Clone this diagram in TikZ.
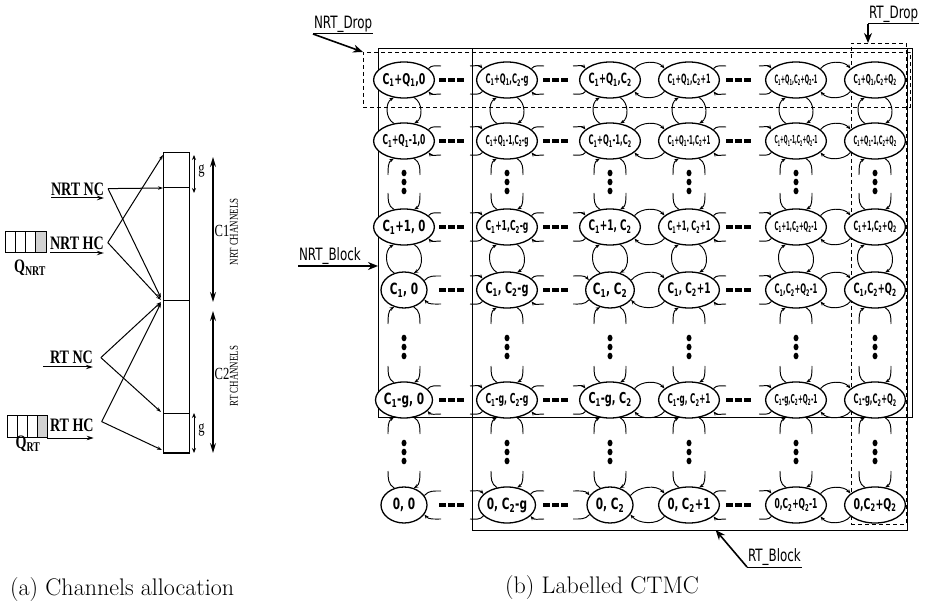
\documentclass[tikz,border=0pt]{standalone}
\usepackage{fontspec}
\usepackage{graphicx}
\usetikzlibrary{arrows.meta,calc,shapes.geometric}
\newfontfamily\lblfont[FakeStretch=0.68]{DejaVu Sans}
\newfontfamily\tagfont[FakeStretch=0.7]{DejaVu Sans}
\newfontfamily\serifc[FakeStretch=0.74]{Liberation Serif}
\newcommand\subA{\textsubscript{1}}
\newcommand\subB{\textsubscript{2}}
\newsavebox\fitbox
\newdimen\fitdim
\newcommand\fitw[1]{\sbox\fitbox{#1}\fitdim=\wd\fitbox\relax
  \ifdim\fitdim>43pt
    \pgfmathsetmacro\fitf{43/\fitdim}%
    \pgfmathsetmacro\fith{\fitf^0.4}%
    \scalebox{\fitf}[\fith]{\usebox\fitbox}%
  \else\usebox\fitbox\fi}
\newcommand\stt[4]{\node[state] (#1) at (#2,-#3) {\fitw{#4}};}
\newcommand\hdashes[2]{\foreach \k in {0,1,2}{\fill ({#1-12+\k*9},{-#2-1.9}) rectangle ++(6.5,3.8);}}
\newcommand\vdotz[2]{\foreach \k in {0,1,2}{\fill (#1,{-(#2-9+\k*9)}) ellipse [x radius=2.5pt, y radius=3.3pt];}}
\tikzset{
  state/.style={ellipse, draw, line width=1.3pt, minimum width=46pt, minimum height=36pt,
    inner sep=0pt, fill=white, font=\lblfont\bfseries\fontsize{15.5}{16}\selectfont},
  tr/.style={line width=0.95pt, -{Stealth[length=4.5pt,width=3.5pt]}},
  trs/.style={line width=0.95pt},
  blk/.style={draw, line width=1pt, inner sep=0pt, outer sep=0pt, anchor=north west},
  dropbox/.style={draw, line width=0.8pt, dash pattern=on 4pt off 3pt, inner sep=0pt, outer sep=0pt, anchor=north west},
  tag/.style={font=\tagfont\fontsize{17}{18}\selectfont, inner sep=1pt, outer sep=0pt, anchor=south west},
  bigarrow/.style={line width=1.6pt, -{Stealth[length=10pt,width=8pt]}},
  lab/.style={font=\serifc\bfseries\fontsize{19}{20}\selectfont, inner sep=0pt, outer sep=0pt},
  txt/.style={font=\serifc\fontsize{17}{18}\selectfont, inner sep=0pt},
  rtxt/.style={font=\serifc\fontsize{12}{13}\selectfont, inner sep=0pt, rotate=90},
  feed/.style={line width=1pt, -{Stealth[length=5pt,width=3.5pt]}},
  under/.style={line width=1pt, -{Stealth[length=7pt,width=4.5pt]}},
  dimbig/.style={line width=1.3pt, {Stealth[length=10pt,width=6pt]}-{Stealth[length=10pt,width=6pt]}},
  dimsmall/.style={line width=1pt, {Stealth[length=5pt,width=4pt]}-{Stealth[length=5pt,width=4pt]}},
  captext/.style={font=\fontsize{24}{28}\selectfont, inner sep=0pt, anchor=west}
}
\begin{document}
\begin{tikzpicture}[x=1pt,y=1pt]
\useasboundingbox (0,0) rectangle (926,-609);

% ================= (a) Channels allocation =================
\node[draw, line width=1pt, minimum width=26pt, minimum height=300pt, inner sep=0pt, outer sep=0pt, anchor=north west] (bar) at (163,-153) {};
\draw[line width=1pt] ($(bar.north west)+(0,-35)$) -- ($(bar.north east)+(0,-35)$);
\draw[line width=1pt] ($(bar.north west)+(0,-148)$) -- ($(bar.north east)+(0,-148)$);
\draw[line width=1pt] ($(bar.north west)+(0,-260)$) -- ($(bar.north east)+(0,-260)$);
\draw[line width=1.8pt] (bar.south west) -- (bar.south east);

\node[lab, anchor=south west] (nrtnc) at (51,-196) {NRT NC};
\node[lab, anchor=south west] (nrthc) at (50,-250) {NRT HC};
\node[lab, anchor=south west] (rtnc) at (50,-364) {RT NC};
\node[lab, anchor=south west] (rthc) at (50,-432) {RT HC};
\draw[under] ([yshift=-2pt]nrtnc.south west) -- ([yshift=-2pt]nrtnc.south east);
\draw[under] ([yshift=-3pt]nrthc.south west) -- ([yshift=-3pt]nrthc.south east);
\draw[under] ([yshift=-3pt,xshift=-7pt]rtnc.south west) -- ([yshift=-3pt]rtnc.south east);
\draw[under] ([yshift=-6pt,xshift=-3pt]rthc.south west) -- ([yshift=-6pt]rthc.south east);

\coordinate (snrtnc) at ([xshift=4pt,yshift=1pt]nrtnc.east);
\coordinate (snrthc) at ([xshift=4pt,yshift=1pt]nrthc.east);
\coordinate (srtnc) at ([xshift=8pt]rtnc.east);
\coordinate (srthc) at ([xshift=8pt,yshift=4pt]rthc.east);
\coordinate (ttop) at ($(bar.north west)+(0,-2)$);
\coordinate (tg1) at ($(bar.north west)+(0,-35)$);
\coordinate (tmid) at ($(bar.north west)+(-2,-147)$);
\coordinate (tg2) at ($(bar.north west)+(-2,-259)$);
\coordinate (tbot) at ($(bar.south west)+(-1,3)$);
\draw[feed] (snrtnc) -- (tg1);
\draw[feed] (snrtnc) -- ([yshift=2pt]tmid);
\draw[feed] (snrthc) -- (ttop);
\draw[feed] (snrthc) -- (tmid);
\draw[feed] (srtnc) -- ([yshift=-2pt]tmid);
\draw[feed] (srtnc) -- (tg2);
\draw[feed] (srthc) -- ([yshift=-3pt]tmid);
\draw[feed] (srthc) -- (tbot);

% queues
\node[draw, line width=1pt, minimum width=41pt, minimum height=21pt, inner sep=0pt, outer sep=0pt, anchor=north west] (qnrt) at (5,-232) {};
\fill[gray!35] ($(qnrt.north east)+(-10,0)$) rectangle (qnrt.south east);
\foreach \k in {1,2,3}{\draw[line width=0.9pt] ($(qnrt.north west)+(\k*10.25,0)$) -- ($(qnrt.south west)+(\k*10.25,0)$);}
\draw[line width=1pt] (qnrt.north west) rectangle (qnrt.south east);
\node[lab] (qnrtl) at (30,-268) {Q\textsubscript{NRT}};
\node[draw, line width=1pt, minimum width=40pt, minimum height=22pt, inner sep=0pt, outer sep=0pt, anchor=north west] (qrt) at (7,-415) {};
\fill[gray!35] ($(qrt.north east)+(-10,0)$) rectangle (qrt.south east);
\foreach \k in {1,2,3}{\draw[line width=0.9pt] ($(qrt.north west)+(\k*10,0)$) -- ($(qrt.south west)+(\k*10,0)$);}
\draw[line width=1pt] (qrt.north west) rectangle (qrt.south east);
\node[lab] (qrtl) at (28,-444) {Q\textsubscript{RT}};

% dimension arrows
\coordinate (g1a) at (194,-155); \coordinate (g1b) at (194,-193);
\coordinate (g2a) at (194,-413); \coordinate (g2b) at (194,-453);
\coordinate (c1a) at (213,-157); \coordinate (c1b) at (213,-302);
\coordinate (c2a) at (213,-311); \coordinate (c2b) at (213,-453);
\draw[dimsmall] (g1a) -- (g1b);
\draw[dimsmall] (g2a) -- (g2b);
\draw[dimbig] (c1a) -- (c1b);
\draw[dimbig] (c2a) -- (c2b);
\node[txt] (g1) at (201.5,-171) {g};
\node[txt] (g2) at (201.5,-430) {g};
\node[txt] (c1) at (222,-231) {C1};
\node[txt] (c2) at (222,-374) {C2};
\node[rtxt] (nrtch) at (234,-232) {NRT CHANNELS};
\node[rtxt] (rtch) at (234,-376) {RT CHANNELS};

\node[captext] (capa) at (10,-590) {(a) Channels allocation};

% ================= (b) Labelled CTMC =================
\node[blk, minimum width=534pt, minimum height=368pt] (nrtblk) at (378,-49) {};
\node[blk, minimum width=435pt, minimum height=481pt] (rtblk) at (472,-49) {};
\node[dropbox, minimum width=547pt, minimum height=55pt] (nrtdroprect) at (363,-52) {};
\node[dropbox, minimum width=55pt, minimum height=481pt] (rtdroprect) at (851,-43) {};

% dashes and dots
\foreach \y in {80,141,227,290,400,505}{
  \hdashes{451}{\y}
  \hdashes{555}{\y}
  \hdashes{738}{\y}
}
\foreach \x in {404,507,610,689,796,875}{
  \vdotz{\x}{182}
  \vdotz{\x}{347}
  \vdotz{\x}{452}
}

% states
\stt{n00}{404}{80}{C\subA+Q\subA,0}
\stt{n01}{507}{80}{C\subA+Q\subA,C\subB-g}
\stt{n02}{610}{80}{C\subA+Q\subA,C\subB}
\stt{n03}{689}{80}{C\subA+Q\subA,C\subB+1}
\stt{n04}{796}{80}{C\subA+Q\subA,C\subB+Q\subB-1}
\stt{n05}{875}{80}{C\subA+Q\subA,C\subB+Q\subB}
\stt{n10}{404}{141}{C\subA+Q\subA-1,0}
\stt{n11}{507}{141}{C\subA+Q\subA-1,C\subB-g}
\stt{n12}{610}{141}{C\subA+Q\subA-1,C\subB}
\stt{n13}{689}{141}{C\subA+Q\subA-1,C\subB+1}
\stt{n14}{796}{141}{C\subA+Q\subA-1,C\subB+Q\subB-1}
\stt{n15}{875}{141}{C\subA+Q\subA-1,C\subB+Q\subB}
\stt{n20}{404}{227}{C\subA+1, 0}
\stt{n21}{507}{227}{C\subA+1,C\subB-g}
\stt{n22}{610}{227}{C\subA+1, C\subB}
\stt{n23}{689}{227}{C\subA+1, C\subB+1}
\stt{n24}{796}{227}{C\subA+1,C\subB+Q\subB-1}
\stt{n25}{875}{227}{C\subA+1,C\subB+Q\subB}
\stt{n30}{404}{290}{C\subA, 0}
\stt{n31}{507}{290}{C\subA, C\subB-g}
\stt{n32}{610}{290}{C\subA, C\subB}
\stt{n33}{689}{290}{C\subA, C\subB+1}
\stt{n34}{796}{290}{C\subA,C\subB+Q\subB-1}
\stt{n35}{875}{290}{C\subA,C\subB+Q\subB}
\stt{n40}{404}{400}{C\subA-g, 0}
\stt{n41}{507}{400}{C\subA-g, C\subB-g}
\stt{n42}{610}{400}{C\subA-g, C\subB}
\stt{n43}{689}{400}{C\subA-g, C\subB+1}
\stt{n44}{796}{400}{C\subA-g,C\subB+Q\subB-1}
\stt{n45}{875}{400}{C\subA-g,C\subB+Q\subB}
\stt{n50}{404}{505}{0, 0}
\stt{n51}{507}{505}{0, C\subB-g}
\stt{n52}{610}{505}{0, C\subB}
\stt{n53}{689}{505}{0, C\subB+1}
\stt{n54}{796}{505}{0,C\subB+Q\subB-1}
\stt{n55}{875}{505}{0,C\subB+Q\subB}

% horizontal transition pairs
\foreach \r in {0,...,5}{
  \foreach \a/\b in {2/3,4/5}{
    \draw[tr] (n\r\a.25) to[out=50,in=130,looseness=0.9] (n\r\b.155);
    \draw[tr] (n\r\b.205) to[out=230,in=310,looseness=0.9] (n\r\a.335);
  }
  \foreach \c in {0,1,3}{
    \draw[trs] (n\r\c.25) to[out=50,in=180] ($(n\r\c.center)+(37,14)$);
    \draw[tr] ($(n\r\c.center)+(37,-14)$) to[out=180,in=310] (n\r\c.335);
  }
  \foreach \c in {1,2,4}{
    \draw[tr] ($(n\r\c.center)+(-37,14)$) to[out=0,in=130] (n\r\c.155);
    \draw[trs] (n\r\c.205) to[out=230,in=0] ($(n\r\c.center)+(-37,-14)$);
  }
}
% vertical transition pairs
\foreach \c in {0,...,5}{
  \foreach \u/\l in {0/1,2/3}{
    \draw[tr] (n\u\c.300) to[out=-30,in=30] (n\l\c.60);
    \draw[tr] (n\l\c.120) to[out=150,in=210] (n\u\c.240);
  }
  \foreach \r in {1,3,4}{
    \draw[trs] (n\r\c.300) to[out=-30,in=90] ($(n\r\c.center)+(16,-34)$);
    \draw[tr] ($(n\r\c.center)+(-16,-34)$) to[out=90,in=210] (n\r\c.240);
  }
  \foreach \r in {2,4,5}{
    \draw[tr] ($(n\r\c.center)+(16,34)$) to[out=-90,in=30] (n\r\c.60);
    \draw[trs] (n\r\c.120) to[out=150,in=-90] ($(n\r\c.center)+(-16,34)$);
  }
}

% region labels
\node[tag] (nrtdrop) at (313,-34) {NRT\_Drop};
\draw[line width=1pt] (nrtdrop.south west) -- (nrtdrop.south east);
\draw[bigarrow] (nrtdrop.south west) -- (nrtdroprect.north west);

\node[tag] (rtdrop) at (868,-24) {RT\_Drop};
\coordinate (rtdroptip) at ($(rtdroprect.north west)!0.29!(rtdroprect.north east)$);
\draw[line width=1pt] (rtdrop.south west) -- (rtdrop.south east);
\draw[bigarrow] (rtdrop.south west) -- (rtdrop.south west |- rtdroptip);

\node[tag] (nrtblock) at (298,-266) {NRT\_Block};
\draw[bigarrow] (nrtblock.south west) -- (nrtblock.south west -| nrtblk.west);

\node[tag] (rtblock) at (747,-567) {RT\_Block};
\coordinate (rtblktip) at ($(rtblk.south west)!0.56!(rtblk.south east)$);
\draw[line width=1pt] (rtblock.south west) -- (rtblock.south east);
\draw[bigarrow] (rtblock.south west) -- (rtblktip);

\node[captext] (capb) at (505,-588) {(b) Labelled CTMC};
\end{tikzpicture}
\end{document}
